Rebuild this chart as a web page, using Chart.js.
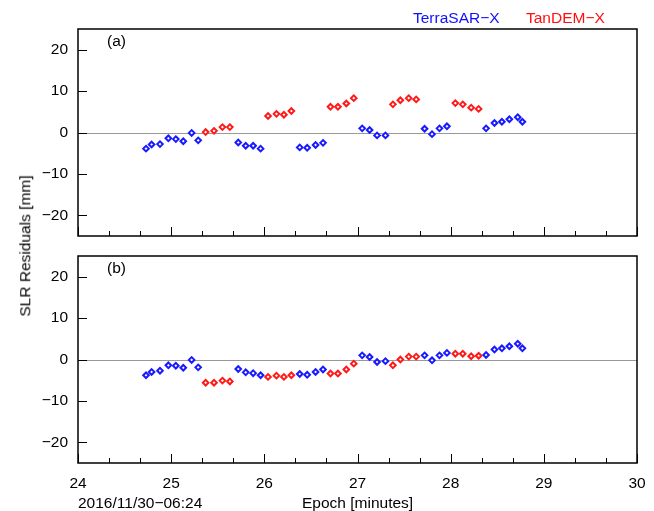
<!DOCTYPE html>
<html>
<head>
<meta charset="utf-8">
<script src="https://cdn.jsdelivr.net/npm/chart.js"></script>
<style>
  body { margin: 0; background: #fff; width: 654px; height: 511px; position: relative; overflow: hidden;
         font-family: "Liberation Sans", Arial, sans-serif; }
  canvas { position: absolute; left: 0; }
  #c1 { top: 0; }
  #c2 { top: 250px; }
  .txt { position: absolute; font-size: 15.5px; white-space: nowrap; line-height: 1; }
</style>
</head>
<body>
<canvas id="c1" width="654" height="250"></canvas>
<canvas id="c2" width="654" height="261"></canvas>
<div class="txt" style="left:413px; top:10px; color:#1010ff;">TerraSAR&minus;X</div>
<div class="txt" style="left:526px; top:10px; color:#ff1010;">TanDEM&minus;X</div>
<div class="txt" style="left:25px; top:246px; transform: translate(-50%,-50%) rotate(-90deg);">SLR Residuals [mm]</div>
<div class="txt" style="left:78px; top:495px;">2016/11/30&minus;06:24</div>
<div class="txt" style="left:302px; top:495px;">Epoch [minutes]</div>
<script>
// epochs in minutes after 06:24
const terraEpochs = [24.73, 24.79, 24.88, 24.97, 25.05, 25.13, 25.22, 25.29,
                     25.72, 25.80, 25.88, 25.96, 26.38, 26.46, 26.55, 26.63,
                     27.05, 27.13, 27.21, 27.30, 27.72, 27.80, 27.88, 27.96,
                     28.38, 28.47, 28.55, 28.63, 28.72, 28.77];
const terraA = [-3.9, -2.9, -2.8, -1.4, -1.6, -2.1, -0.1, -1.9,
                -2.4, -3.2, -3.2, -3.9, -3.6, -3.7, -3.0, -2.5,
                1.0, 0.6, -0.7, -0.7, 0.9, -0.4, 1.0, 1.5,
                1.0, 2.3, 2.6, 3.2, 3.7, 2.6];
const terraB = [-3.8, -3.0, -2.7, -1.4, -1.5, -2.0, -0.1, -1.9,
                -2.3, -3.1, -3.3, -3.8, -3.5, -3.7, -3.0, -2.4,
                1.0, 0.6, -0.6, -0.4, 1.0, -0.2, 1.0, 1.6,
                1.1, 2.4, 2.7, 3.2, 3.8, 2.7];

const tandemEpochs = [25.37, 25.46, 25.55, 25.63, 26.04, 26.13, 26.21, 26.29,
                      26.71, 26.79, 26.88, 26.96, 27.38, 27.46, 27.55, 27.63,
                      28.05, 28.13, 28.22, 28.30];
const tandemA = [0.1, 0.4, 1.3, 1.3, 4.0, 4.5, 4.3, 5.2,
                 6.2, 6.2, 7.0, 8.3, 6.8, 7.8, 8.3, 8.0,
                 7.1, 6.8, 6.0, 5.7];
const tandemB = [-5.6, -5.6, -5.1, -5.3, -4.2, -3.9, -4.2, -3.8,
                 -3.4, -3.4, -2.4, -1.0, -1.4, 0.0, 0.7, 0.7,
                 1.4, 1.4, 0.8, 0.9];

const xTicks = [24, 25, 26, 27, 28, 29, 30];
const yTicks = [-20, -10, 0, 10, 20];

const FONT = { family: '"Liberation Sans", Arial, sans-serif', size: 15.5 };

function pts(xs, ys) {
  return xs.map((x, i) => ({ x: x, y: ys[i] }));
}

// frame, inward ticks, zero line, panel label
const framePlugin = {
  id: 'frame',
  beforeDatasetsDraw(chart) {
    const { ctx, chartArea: a, scales } = chart;
    const y0 = Math.round(scales.y.getPixelForValue(0)) + 0.5;
    ctx.save();
    ctx.strokeStyle = '#999';
    ctx.lineWidth = 1;
    ctx.beginPath();
    ctx.moveTo(a.left, y0);
    ctx.lineTo(a.right, y0);
    ctx.stroke();
    ctx.restore();
  },
  afterDraw(chart, args, opts) {
    const { ctx, chartArea: a, scales } = chart;
    ctx.save();
    ctx.strokeStyle = '#000';
    ctx.lineWidth = 1.5;
    ctx.strokeRect(a.left, a.top, a.right - a.left, a.bottom - a.top);
    ctx.lineWidth = 1;
    ctx.beginPath();
    for (let k = 0; k <= 18; k++) {
      const px = Math.round(scales.x.getPixelForValue(24 + k / 3)) + 0.5;
      const len = k % 3 === 0 ? 9 : 5;
      ctx.moveTo(px, a.bottom);
      ctx.lineTo(px, a.bottom - len);
    }
    yTicks.forEach(v => {
      const py = Math.round(scales.y.getPixelForValue(v)) + 0.5;
      ctx.moveTo(a.left, py);
      ctx.lineTo(a.left + 9, py);
    });
    ctx.stroke();
    ctx.fillStyle = '#000';
    ctx.font = FONT.size + 'px ' + FONT.family;
    ctx.textBaseline = 'middle';
    ctx.fillText(opts.label, a.left + 29, a.top + 13);
    ctx.restore();
  }
};

function makeChart(id, aVals, bVals, label, showX) {
  return new Chart(document.getElementById(id), {
    type: 'scatter',
    data: {
      datasets: [{
        label: 'TerraSAR-X',
        data: pts(terraEpochs, aVals),
        pointStyle: 'rectRot',
        pointRadius: 2.8,
        borderWidth: 2,
        borderColor: '#1a1aff',
        backgroundColor: '#ffffff'
      }, {
        label: 'TanDEM-X',
        data: pts(tandemEpochs, bVals),
        pointStyle: 'rectRot',
        pointRadius: 2.8,
        borderWidth: 2,
        borderColor: '#ff1a1a',
        backgroundColor: '#ffffff'
      }]
    },
    options: {
      responsive: false,
      animation: false,
      events: [],
      layout: {
        padding: showX ? { top: 6, right: 17, bottom: 0, left: 0 }
                       : { top: 29, right: 17, bottom: 14, left: 0 }
      },
      plugins: {
        legend: { display: false },
        tooltip: { enabled: false },
        frame: { label: label }
      },
      scales: {
        x: {
          type: 'linear',
          min: 24,
          max: 30,
          afterBuildTicks: s => { s.ticks = xTicks.map(v => ({ value: v })); },
          afterFit: s => {
            s.height = showX ? 48 : 0;
            s.paddingLeft = 0; s.paddingRight = 0;
          },
          grid: { display: false, drawTicks: false },
          border: { display: false },
          ticks: { display: showX, padding: 11, color: '#000', font: FONT, maxRotation: 0 }
        },
        y: {
          min: -25,
          max: 25,
          afterBuildTicks: s => { s.ticks = yTicks.map(v => ({ value: v })); },
          afterFit: s => {
            s.width = 78;
            s.paddingTop = 0; s.paddingBottom = 0;
          },
          grid: { display: false, drawTicks: false },
          border: { display: false },
          ticks: {
            padding: 10,
            color: '#000',
            font: FONT,
            callback: v => v < 0 ? '\u2212' + Math.abs(v) : String(v)
          }
        }
      }
    },
    plugins: [framePlugin]
  });
}

makeChart('c1', terraA, tandemA, '(a)', false);
makeChart('c2', terraB, tandemB, '(b)', true);
</script>
</body>
</html>
